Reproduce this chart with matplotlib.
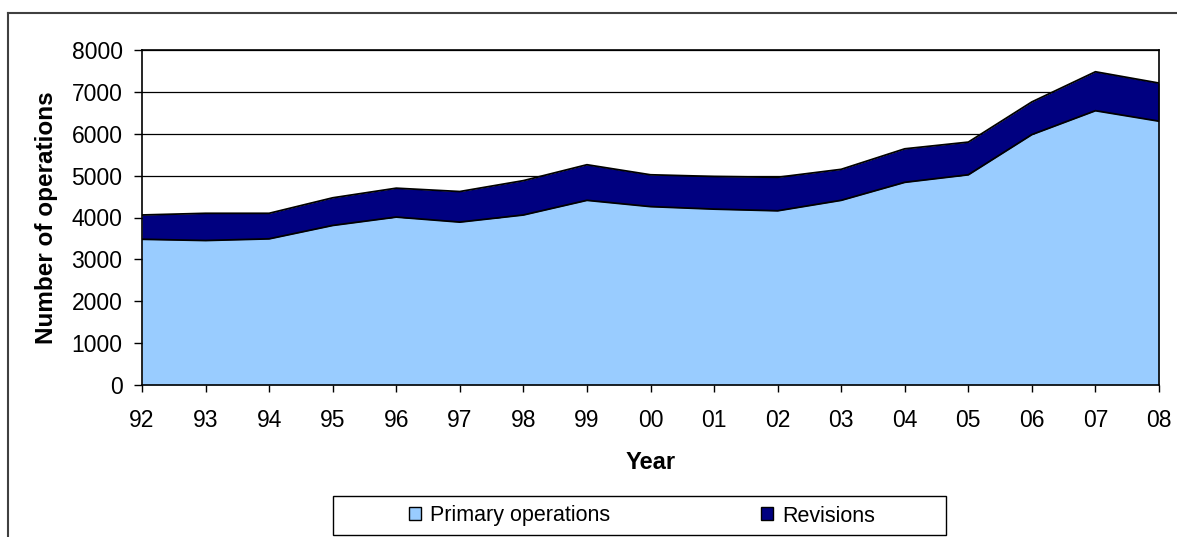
import matplotlib
matplotlib.use("Agg")
import matplotlib.pyplot as plt
from matplotlib.lines import Line2D
from matplotlib.patches import Patch, Rectangle
import numpy as np

plt.rcParams['font.family'] = ['Liberation Sans', 'DejaVu Sans']

years = ["92", "93", "94", "95", "96", "97", "98", "99", "00", "01", "02",
         "03", "04", "05", "06", "07", "08"]
primary = [3480, 3450, 3490, 3810, 4010, 3890, 4060, 4410, 4260, 4200, 4160,
           4410, 4840, 5020, 5980, 6550, 6300]
revisions = [580, 650, 610, 660, 690, 730, 820, 850, 760, 780, 800,
             740, 800, 780, 780, 930, 910]
yticks = [0, 1000, 2000, 3000, 4000, 5000, 6000, 7000, 8000]

W, H = 1177, 537
fig = plt.figure(figsize=(W / 100, H / 100), dpi=100)
ax = fig.add_axes([142 / W, 1 - 385 / H, 1017 / W, 335 / H])

x = np.arange(len(years))
p = np.array(primary)
r = np.array(revisions)
top = p + r

for yv in yticks[1:]:
    ax.axhline(yv, color='black', lw=0.9, zorder=1)

ax.fill_between(x, 0, p, color='#99CCFF', lw=0, zorder=2)
ax.fill_between(x, p, top, color='#000080', lw=0, zorder=2)
ax.plot(x, p, color='black', lw=1.3, zorder=3)
ax.plot(x, top, color='black', lw=1.3, zorder=3)

ax.set_xlim(0, len(years) - 1)
ax.set_ylim(0, 8000)
ax.set_xticks(x)
ax.set_xticklabels(years)
ax.set_yticks(yticks)
ax.set_yticklabels([str(v) for v in yticks])
ax.tick_params(axis='y', direction='out', length=6, width=1, labelsize=16.5, pad=8)
ax.tick_params(axis='x', direction='out', length=5, width=1, labelsize=16.5, pad=12)
for s in ax.spines.values():
    s.set_color('black')
    s.set_linewidth(1.2)
    s.set_zorder(4)

ax.set_xlabel("Year", fontsize=17, fontweight='bold', labelpad=14)
ax.set_ylabel("Number of operations", fontsize=17.5, fontweight='bold', labelpad=9.5)

# legend box
fig.add_artist(Rectangle((333 / W, 1 - 535 / H), (946 - 333) / W, (535 - 496) / H,
                         transform=fig.transFigure, facecolor='white',
                         edgecolor='black', lw=1))
handles = [Patch(facecolor='#99CCFF', edgecolor='black', lw=1),
           Patch(facecolor='#000080', edgecolor='black', lw=1)]
leg = fig.legend(handles, ["Primary operations", "Revisions"], loc='center',
                 bbox_to_anchor=(642 / W, 1 - 516 / H), ncol=2, fontsize=15.5,
                 frameon=False, handlelength=0.55, handleheight=0.55,
                 handletextpad=0.42, columnspacing=7.0, borderpad=0)

# outer chart border (top and left visible)
fig.add_artist(Line2D([8 / W, 1.0], [1 - 13 / H, 1 - 13 / H], color='#404040', lw=1.5,
                      transform=fig.transFigure))
fig.add_artist(Line2D([8 / W, 8 / W], [0, 1 - 13 / H], color='#404040', lw=1.5,
                      transform=fig.transFigure))

fig.savefig("out.png", dpi=100)
